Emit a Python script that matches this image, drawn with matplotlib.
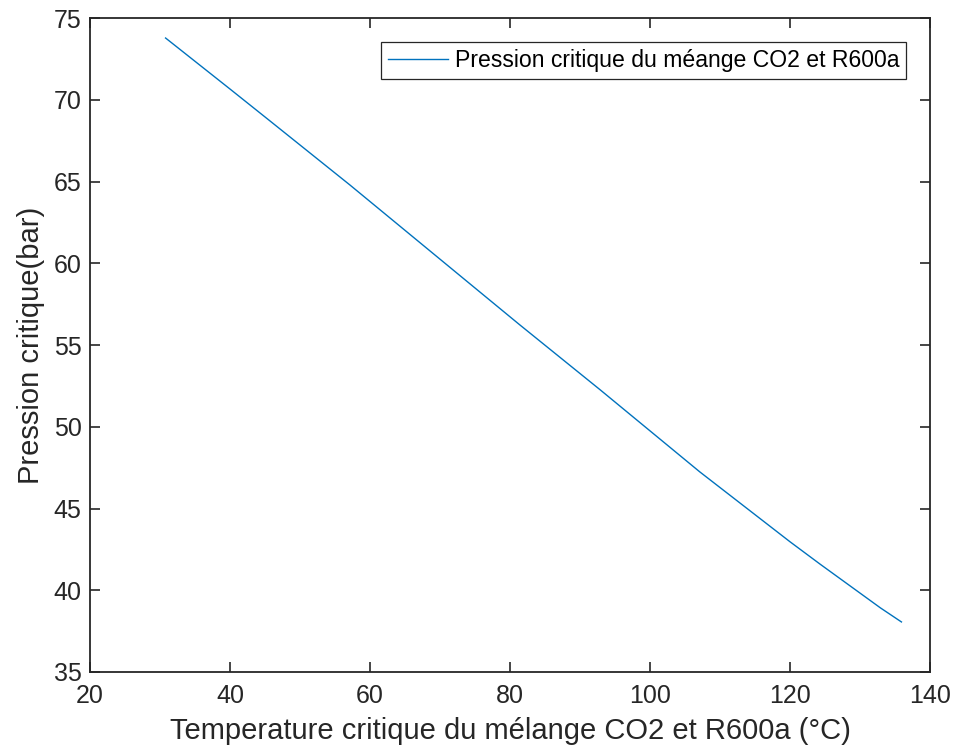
import matplotlib
matplotlib.use('Agg')
import matplotlib.pyplot as plt

# values
temperature = [30.8, 40.0, 45.5, 57.1, 73.6, 81.4, 92.9, 107.1, 120.0, 124.3, 132.9, 135.9]
pressure = [73.78, 70.66, 68.78, 64.80, 58.98, 56.23, 52.25, 47.24, 42.96, 41.59, 38.92, 38.06]

x_ticks = [20, 40, 60, 80, 100, 120, 140]
y_ticks = [35, 40, 45, 50, 55, 60, 65, 70, 75]

plt.rcParams['font.family'] = ['Liberation Sans', 'DejaVu Sans']
AX_COLOR = '#262626'

fig = plt.figure(figsize=(9.54, 7.53), dpi=100)
ax = fig.add_axes([0.0943, 0.1076, 0.8807, 0.8684])

ax.plot(temperature, pressure, color='#0072BD', linewidth=1.0,
        label='Pression critique du méange CO2 et R600a')

ax.set_xlim(20, 140)
ax.set_ylim(35, 75)
ax.set_xticks(x_ticks)
ax.set_yticks(y_ticks)
ax.tick_params(direction='in', length=7, width=1.2, top=True, right=True,
               labelsize=18, colors=AX_COLOR)
ax.tick_params(axis='x', pad=9)
ax.tick_params(axis='y', pad=6)
for s in ax.spines.values():
    s.set_linewidth(1.3)
    s.set_color(AX_COLOR)

ax.set_xlabel('Temperature critique du mélange CO2 et R600a (°C)', fontsize=21, color=AX_COLOR, labelpad=6)
ax.set_ylabel('Pression critique(bar)', fontsize=21, color=AX_COLOR, labelpad=6)

leg = ax.legend(loc='upper right', fontsize=16.6, fancybox=False, framealpha=1,
                edgecolor=AX_COLOR, handlelength=2.6, borderaxespad=1.05,
                borderpad=0.3, handletextpad=0.3)
leg.get_frame().set_linewidth(0.9)

fig.savefig('out.png', dpi=100)
